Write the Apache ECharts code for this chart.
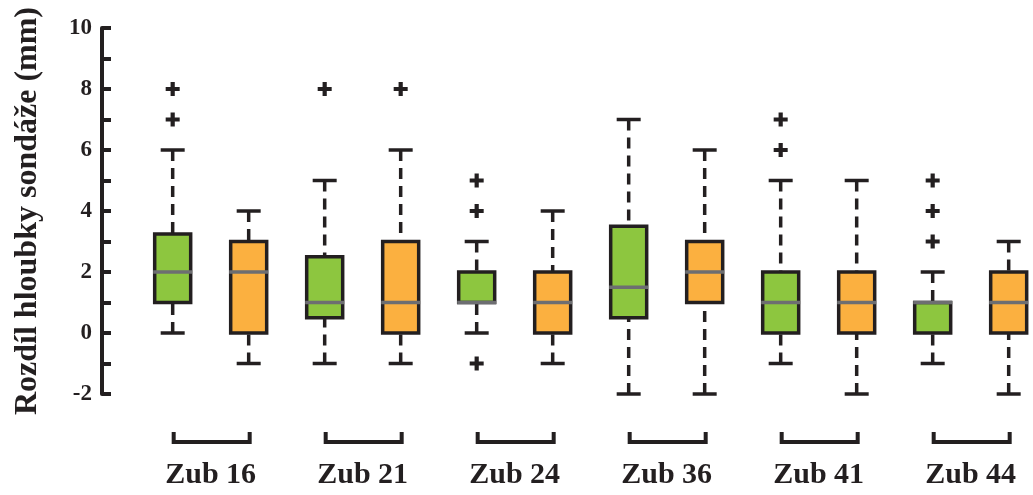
<!DOCTYPE html>
<html>
<head>
<meta charset="utf-8">
<script src="https://cdn.jsdelivr.net/npm/echarts@6/dist/echarts.min.js"></script>
<style>
  html, body { margin: 0; padding: 0; background: #fff; }
  #main { width: 1033px; height: 495px; }
</style>
</head>
<body>
<div id="main"></div>
<script>
// skupiny (zuby)
var groups = ['Zub 16', 'Zub 21', 'Zub 24', 'Zub 36', 'Zub 41', 'Zub 44'];
// [dolni vous, Q1, median, Q3, horni vous]
var greenBoxes = [
  [0, 1, 2, 3.25, 6],
  [-1, 0.5, 1, 2.5, 5],
  [0, 1, 1, 2, 3],
  [-2, 0.5, 1.5, 3.5, 7],
  [-1, 0, 1, 2, 5],
  [-1, 0, 1, 1, 2]
];
var orangeBoxes = [
  [-1, 0, 2, 3, 4],
  [-1, 0, 1, 3, 6],
  [-1, 0, 1, 2, 4],
  [-2, 1, 2, 3, 6],
  [-2, 0, 1, 2, 5],
  [-2, 0, 1, 2, 3]
];
// odlehle hodnoty po skupinach
var greenOutliers = [[7, 8], [8], [4, 5, -1], [], [6, 7], [3, 4, 5]];
var orangeOutliers = [[], [8], [], [], [], []];
var yTicks = [-2, 0, 2, 4, 6, 8, 10];

var GREEN = '#8DC63F';
var ORANGE = '#FBB040';
var INK = '#231F20';
var FONT = 'Liberation Serif';

function boxData(list, shift) {
  return list.map(function (b, g) {
    return [g * 2 + shift].concat(b);
  });
}
function outlierData(list, shift) {
  var out = [];
  list.forEach(function (vals, g) {
    vals.forEach(function (v) { out.push([g * 2 + shift, v]); });
  });
  return out;
}

function makeBoxRender(fill) {
  return function (params, api) {
    var x = api.value(0);
    var low = api.coord([x, api.value(1)]);
    var q1 = api.coord([x, api.value(2)]);
    var med = api.coord([x, api.value(3)]);
    var q3 = api.coord([x, api.value(4)]);
    var high = api.coord([x, api.value(5)]);
    var cx = med[0];
    var hw = 18, cap = 12;
    var dash = { stroke: INK, lineWidth: 3.5, lineDash: [11, 7] };
    var solid = { stroke: INK, lineWidth: 3.5 };
    var children = [];
    if (high[1] < q3[1] - 1) {
      children.push({ type: 'line', shape: { x1: cx, y1: high[1], x2: cx, y2: q3[1] }, style: dash });
    }
    if (low[1] > q1[1] + 1) {
      children.push({ type: 'line', shape: { x1: cx, y1: low[1], x2: cx, y2: q1[1] }, style: dash });
    }
    children.push({ type: 'line', shape: { x1: cx - cap, y1: high[1], x2: cx + cap, y2: high[1] }, style: solid });
    children.push({ type: 'line', shape: { x1: cx - cap, y1: low[1], x2: cx + cap, y2: low[1] }, style: solid });
    children.push({
      type: 'rect',
      shape: { x: cx - hw, y: q3[1], width: hw * 2, height: q1[1] - q3[1] },
      style: { fill: fill, stroke: INK, lineWidth: 3.5 }
    });
    children.push({
      type: 'line',
      shape: { x1: cx - hw - 1.5, y1: med[1], x2: cx + hw + 1.5, y2: med[1] },
      style: { stroke: '#6D6E71', lineWidth: 3.5 }
    });
    return { type: 'group', children: children };
  };
}

function renderBracket(params, api) {
  var g = api.value(0);
  var a = api.coord([g * 2, -2]);
  var b = api.coord([g * 2 + 1, -2]);
  var y0 = a[1];
  return {
    type: 'group',
    children: [
      {
        type: 'polyline',
        shape: { points: [[a[0] + 1, y0 + 38], [a[0] + 1, y0 + 48], [b[0] + 1, y0 + 48], [b[0] + 1, y0 + 38]] },
        style: { stroke: INK, lineWidth: 4, fill: null }
      },
      {
        type: 'text',
        style: {
          text: groups[g], x: (a[0] + b[0]) / 2, y: y0 + 81,
          align: 'center', verticalAlign: 'middle',
          fontFamily: FONT, fontWeight: 'bold', fontSize: 30, fill: INK
        }
      }
    ]
  };
}

var plusSymbol = 'path://M3.5,0h3v3.5h3.5v3h-3.5v3.5h-3v-3.5h-3.5v-3h3.5z';

var chart = echarts.init(document.getElementById('main'));
chart.setOption({
  animation: false,
  grid: { left: 102, right: 0, top: 28, bottom: 101 },
  xAxis: { type: 'value', min: -0.93, max: 11.32, show: false },
  yAxis: {
    type: 'value', min: yTicks[0], max: yTicks[yTicks.length - 1], interval: 2,
    name: 'Rozdíl hloubky sondáže (mm)',
    nameLocation: 'middle', nameRotate: 90, nameGap: 58,
    nameTextStyle: { fontFamily: FONT, fontWeight: 'bold', fontSize: 32, color: INK },
    axisLine: { show: true, onZero: false, lineStyle: { color: INK, width: 4 } },
    axisTick: { show: true, inside: true, length: 9, lineStyle: { color: INK, width: 4 } },
    minorTick: { show: true, splitNumber: 2, length: 9, lineStyle: { color: INK, width: 4 } },
    splitLine: { show: false },
    axisLabel: { fontFamily: FONT, fontWeight: 'bold', fontSize: 23, color: INK, margin: 10 }
  },
  series: [
    { type: 'custom', renderItem: makeBoxRender(GREEN), data: boxData(greenBoxes, 0), encode: { x: 0, y: [1, 2, 3, 4, 5] }, z: 2 },
    { type: 'custom', renderItem: makeBoxRender(ORANGE), data: boxData(orangeBoxes, 1), encode: { x: 0, y: [1, 2, 3, 4, 5] }, z: 2 },
    {
      type: 'scatter', symbol: plusSymbol, symbolSize: 14,
      itemStyle: { color: INK, opacity: 1 },
      data: outlierData(greenOutliers, 0).concat(outlierData(orangeOutliers, 1)), z: 3
    },
    {
      type: 'custom', renderItem: renderBracket, clip: false,
      data: groups.map(function (n, i) { return [i]; }), encode: { x: 0 }, silent: true
    }
  ]
});
</script>
</body>
</html>
